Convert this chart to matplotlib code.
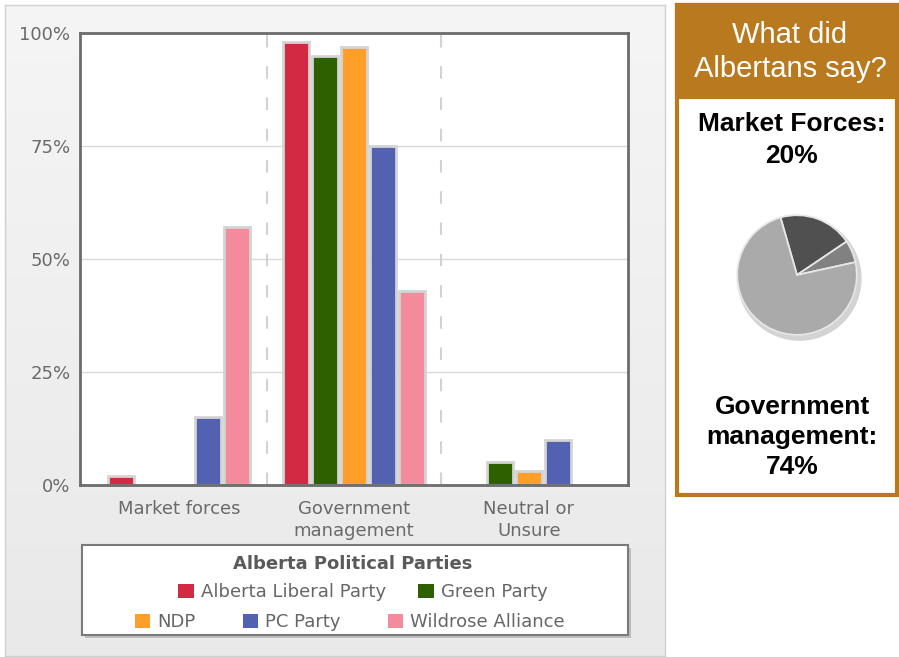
import matplotlib
matplotlib.use("Agg")
import matplotlib.pyplot as plt
import numpy as np
from matplotlib.patches import Rectangle, Patch, Circle
from matplotlib.colors import LinearSegmentedColormap

plt.rcParams["font.family"] = ["DejaVu Sans"]

# ---- data ----
categories = ["Market forces", "Government\nmanagement", "Neutral or\nUnsure"]
parties = ["Alberta Liberal Party", "Green Party", "NDP", "PC Party", "Wildrose Alliance"]
colors = ["#d12a42", "#2f6000", "#ff9f2a", "#5262b0", "#f48b9c"]
liberal = [2, 98, 0]
green = [0, 95, 5]
ndp = [0, 97, 3]
pc = [15, 75, 10]
wildrose = [57, 43, 0]
series = [liberal, green, ndp, pc, wildrose]
y_ticks = [0, 25, 50, 75, 100]
y_ticklabels = ["0%", "25%", "50%", "75%", "100%"]

pie_labels = ["Market Forces", "Neutral or Unsure", "Government management"]
pie_values = [20, 6, 74]
pie_colors = ["#505050", "#818181", "#aaaaaa"]

W, H = 899, 657
fig = plt.figure(figsize=(W / 100, H / 100), dpi=100)
fig.patch.set_facecolor("white")


def fx(x):
    return x / W


def fy(y):
    return 1 - y / H


# ---- left panel background (gradient) ----
bg = fig.add_axes([fx(5), fy(656), fx(665) - fx(5), fy(5) - fy(656)], zorder=0)
grad = np.linspace(0, 1, 256).reshape(-1, 1)
cmap = LinearSegmentedColormap.from_list("g", ["#f5f5f5", "#e9e9e9"])
bg.imshow(grad, aspect="auto", cmap=cmap, extent=[0, 1, 0, 1], origin="upper")
bg.set_xticks([]); bg.set_yticks([])
for s in bg.spines.values():
    s.set_color("#d0d0d0"); s.set_linewidth(1)

# ---- main bar axes ----
ax = fig.add_axes([fx(80), fy(485), fx(628) - fx(80), fy(33) - fy(485)], zorder=2)
ax.set_facecolor("white")
x = np.arange(len(categories))
step = 0.166
bw = 0.15
for i, (vals, c) in enumerate(zip(series, colors)):
    lws = [2.0 if v > 0 else 0 for v in vals]
    ax.bar(x + (i - 2) * step, vals, width=bw, color=c, edgecolor="#d4d4d4",
           linewidth=lws, zorder=3, label=parties[i])

ax.set_xlim(-0.566, 2.566)
ax.set_ylim(0, 100)
ax.set_yticks(y_ticks)
ax.set_yticklabels(y_ticklabels)
ax.set_xticks(x)
ax.set_xticklabels(categories, linespacing=1.25)
ax.tick_params(axis="both", length=0, colors="#6a6a6a", labelsize=13)
ax.tick_params(axis="y", pad=7)
ax.tick_params(axis="x", pad=11)
for t in y_ticks[1:-1]:
    ax.axhline(t, color="#d9d9d9", lw=1, zorder=1)
for b in [0.5, 1.5]:
    ax.axvline(b, color="#d2d2d2", lw=1.5, linestyle=(0, (6, 9)), zorder=1)
for s in ax.spines.values():
    s.set_color("#6b6b6b"); s.set_linewidth(2); s.set_zorder(5)

# ---- legend box ----
shadow = Rectangle((fx(85), fy(638)), fx(631) - fx(85), fy(548) - fy(638),
                   transform=fig.transFigure, facecolor="#bdbdbd", edgecolor="none", zorder=3)
fig.patches.append(shadow)
box = Rectangle((fx(82), fy(635)), fx(628) - fx(82), fy(545) - fy(635),
                transform=fig.transFigure, facecolor="white", edgecolor="#7a7a7a", lw=1.5, zorder=4)
fig.patches.append(box)
fig.text(fx(353), fy(564), "Alberta Political Parties", ha="center", va="center",
         fontsize=13, fontweight="bold", color="#5a5a5a", zorder=6)

handles = [Patch(facecolor=c, edgecolor="none") for c in colors]
leg1 = fig.legend(handles[:2], parties[:2], loc="center", bbox_to_anchor=(fx(363), fy(592)),
                  ncol=2, frameon=False, fontsize=13, labelcolor="#666666",
                  handlelength=0.85, handleheight=0.85, handletextpad=0.4, columnspacing=1.8)
leg2 = fig.legend(handles[2:], parties[2:], loc="center", bbox_to_anchor=(fx(350), fy(622)),
                  ncol=3, frameon=False, fontsize=13, labelcolor="#666666",
                  handlelength=0.85, handleheight=0.85, handletextpad=0.4, columnspacing=2.6)
leg1.set_zorder(6); leg2.set_zorder(6)

# ---- right panel ----
brown = "#b97a1f"
rp = Rectangle((fx(677), fy(495)), fx(897) - fx(677), fy(5) - fy(495),
               transform=fig.transFigure, facecolor="white", edgecolor=brown, lw=3, zorder=1)
fig.patches.append(rp)
hdr = Rectangle((fx(677), fy(97)), fx(897) - fx(677), fy(5) - fy(97),
                transform=fig.transFigure, facecolor=brown, edgecolor=brown, lw=3, zorder=1)
fig.patches.append(hdr)
fig.text(fx(790), fy(52), "What did\nAlbertans say?", ha="center", va="center",
         color="white", fontsize=21, family="Liberation Sans", linespacing=1.25)
fig.text(fx(792), fy(140), "Market Forces:\n20%", ha="center", va="center",
         color="black", fontsize=19, fontweight="bold", family="Liberation Sans", linespacing=1.4)
fig.text(fx(792), fy(437), "Government\nmanagement:\n74%", ha="center", va="center",
         color="black", fontsize=19, fontweight="bold", family="Liberation Sans", linespacing=1.33)

# ---- pie ----
pa = fig.add_axes([fx(727), fy(345), 140 / W, 140 / H], zorder=3)
pa.add_patch(Circle((0.04, -0.06), 1.04, facecolor="#c8c8c8", edgecolor="none", alpha=0.8, zorder=0))
pa.pie(pie_values, colors=pie_colors, startangle=106, counterclock=False, radius=1.0,
       wedgeprops=dict(edgecolor="#e6e6e6", linewidth=1.3))
pa.set_xlim(-1.17, 1.17)
pa.set_ylim(-1.17, 1.17)
pa.set_aspect("equal")
pa.axis("off")

fig.savefig("out.png", dpi=100, facecolor="white")
